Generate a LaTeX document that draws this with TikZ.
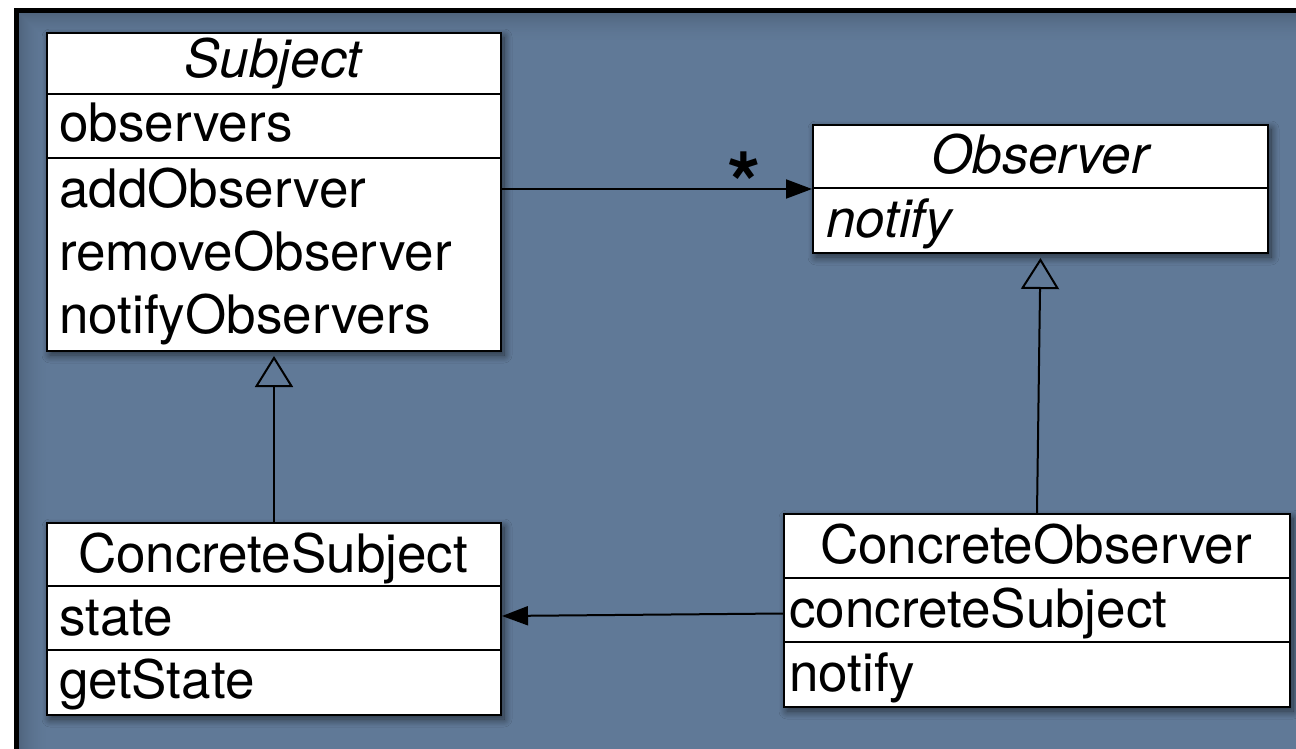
\documentclass[tikz,border=0pt]{standalone}
\usepackage{fontspec}
\setmainfont{TeX Gyre Heros}
\usetikzlibrary{arrows.meta,calc,shadows.blur}
\definecolor{bgblue}{RGB}{96,121,151}
\begin{document}
\begin{tikzpicture}[x=1pt,y=-1pt,
  classbox/.style={draw=black, line width=2pt, fill=white, inner sep=0pt, anchor=north west,
    blur shadow={shadow xshift=3pt, shadow yshift=-4pt, shadow blur radius=8pt, shadow blur steps=12, shadow opacity=60}},
  divider/.style={draw=black, line width=2pt},
  txt/.style={inner sep=0pt, font=\fontsize{53}{60}\selectfont},
  conn/.style={draw=black, line width=2pt},
  assoc/.style={conn, -{Triangle[length=26pt,width=19pt]}},
  gen/.style={conn, -{Triangle[open,length=31pt,width=38pt,line width=2pt]}, shorten >=4pt},
  star/.style={inner sep=0pt, font=\fontsize{86}{86}\selectfont\bfseries}
]
\useasboundingbox (0,0) rectangle (1296,749);
% frame and background
\fill[white] (0,0) rectangle (1296,749);
\fill[black] (14,8) rectangle (1296,749);
\fill[bgblue] (19,13) rectangle (1296,749);
\foreach \d in {0,...,29}{
  \pgfmathsetmacro{\op}{0.16*(1-\d/30)*(1-\d/30)}
  \draw[black, opacity=\op, line width=1.05pt] (1296,13.5+\d) -- (19.5+\d,13.5+\d) -- (19.5+\d,749);
}

% Subject
\node[classbox, minimum width=454pt, minimum height=318pt] (subj) at (46,32) {};
\draw[divider] (46,94) -- (500,94);
\draw[divider] (46,158) -- (500,158);
\node[txt, anchor=base] (subjT) at (273,78) {\itshape Subject};
\node[txt, anchor=base west] (subjA) at (59,142) {observers};
\node[txt, anchor=base west] (subjM1) at (59,207) {addObserver};
\node[txt, anchor=base west] (subjM2) at (59,270) {removeObserver};
\node[txt, anchor=base west] (subjM3) at (59,333) {notifyObservers};

% Observer
\node[classbox, minimum width=455pt, minimum height=128pt] (obs) at (812,124) {};
\draw[divider] (812,188) -- (1267,188);
\node[txt, anchor=base] (obsT) at (1040,173) {\itshape Observer};
\node[txt, anchor=base west] (obsM) at (826,237) {\itshape notify};

% ConcreteSubject
\node[classbox, minimum width=454pt, minimum height=192pt] (csubj) at (46,522) {};
\draw[divider] (46,586) -- (500,586);
\draw[divider] (46,650) -- (500,650);
\node[txt, anchor=base] (csubjT) at (273,572) {ConcreteSubject};
\node[txt, anchor=base west] (csubjA) at (59,635) {state};
\node[txt, anchor=base west] (csubjM) at (59,698) {getState};

% ConcreteObserver
\node[classbox, minimum width=506pt, minimum height=193pt] (cobs) at (783,513) {};
\draw[divider] (783,578) -- (1289,578);
\draw[divider] (783,642) -- (1289,642);
\node[txt, anchor=base] (cobsT) at (1036,563) {ConcreteObserver};
\node[txt, anchor=base west] (cobsA) at (789,627) {concreteSubject};
\node[txt, anchor=base west] (cobsM) at (789,691) {notify};

% connectors
\draw[assoc] (obs.west -| subj.east) -- (obs.west)
  node[star, pos=0.78, anchor=base, yshift=-25pt] (mult) {*};
\draw[assoc] ($(cobs.west)+(0,3)$) -- ($(csubj.east)+(0,-3)$);
\draw[gen] (csubj.north) -- (subj.south);
\draw[gen] (cobs.north) -- (obs.south);
\end{tikzpicture}
\end{document}
